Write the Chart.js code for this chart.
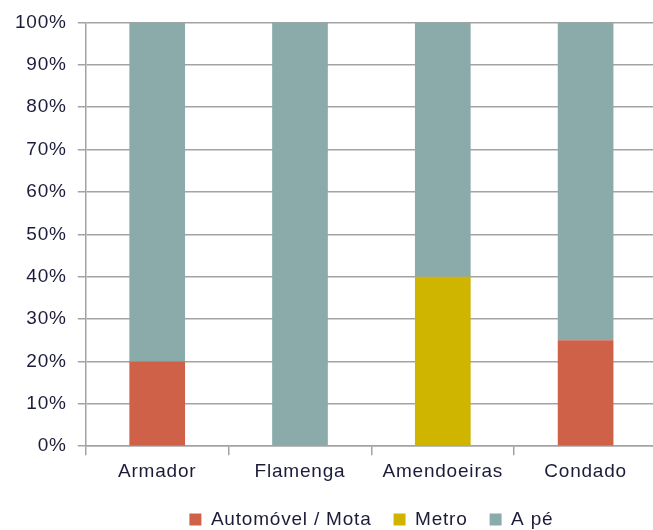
<!DOCTYPE html>
<html lang="pt">

<head>
    <meta charset="UTF-8">
    <title>Modo de deslocação</title>
    <style>
        body {
            margin: 0;
            background: #ffffff;
            overflow: hidden;
        }

        .chart-container {
            position: relative;
            width: 742px;
            height: 530px;
        }
    </style>
</head>

<body>
    <div class="chart-container">
        <canvas id="chart"></canvas>
    </div>

    <script src="https://cdn.jsdelivr.net/npm/chart.js"></script>
    <script>
        // categories and series (percent of each place)
        const places = ["Armador", "Flamenga", "Amendoeiras", "Condado"];
        const seriesNames = ["Automóvel / Mota", "Metro", "A pé"];
        const autoMota = [20, 0, 0, 25];
        const metro = [0, 0, 40, 0];
        const aPe = [80, 100, 60, 75];
        const seriesColors = ["#D06149", "#CFB500", "#8BABAB"];

        const gridGray = "#A3A3A3";
        const textColor = "#1c1c3a";

        Chart.defaults.font.family = "Arial, 'Liberation Sans', sans-serif";
        Chart.defaults.font.size = 19;
        Chart.defaults.color = textColor;

        // the original text is a bit wider than Liberation Sans, add some spacing
        const spacing = {
            id: "spacing",
            beforeUpdate(chart) { chart.ctx.letterSpacing = "0.8px"; },
            beforeDraw(chart) { chart.ctx.letterSpacing = "0.8px"; }
        };

        // centre the legend under the plot area instead of the whole layout box
        const legendUnderPlot = {
            id: "legendUnderPlot",
            afterLayout(chart) {
                const lg = chart.legend;
                const area = chart.chartArea;
                const shift = (area.left + area.right) / 2 - (lg.left + lg.right) / 2;
                lg.left += shift;
                lg.right += shift;
            }
        };

        const ctx = document.getElementById("chart").getContext("2d");

        new Chart(ctx, {
            type: "bar",
            data: {
                labels: places,
                datasets: [autoMota, metro, aPe].map((values, i) => ({
                    label: seriesNames[i],
                    data: values,
                    backgroundColor: seriesColors[i],
                    borderWidth: 0,
                    barPercentage: 0.39,
                    categoryPercentage: 1.0
                }))
            },
            options: {
                responsive: true,
                maintainAspectRatio: false,
                animation: false,
                layout: {
                    padding: { top: 16, left: 4, right: 85, bottom: -9 }
                },
                plugins: {
                    tooltip: { enabled: false },
                    legend: {
                        position: "bottom",
                        labels: {
                            boxWidth: 12,
                            boxHeight: 12,
                            padding: 22,
                            font: { size: 19 }
                        }
                    }
                },
                scales: {
                    x: {
                        stacked: true,
                        grid: {
                            display: true,
                            drawOnChartArea: false,
                            color: gridGray,
                            lineWidth: 1.5,
                            tickLength: 9,
                            offset: true
                        },
                        border: { color: gridGray, width: 1.5 },
                        ticks: { padding: 5, font: { size: 19 } }
                    },
                    y: {
                        stacked: true,
                        min: 0,
                        max: 100,
                        grid: {
                            color: gridGray,
                            lineWidth: 1.5,
                            tickLength: 8
                        },
                        border: { color: gridGray, width: 1.5 },
                        ticks: {
                            stepSize: 10,
                            padding: 11,
                            font: { size: 19 },
                            callback: value => value + "%"
                        }
                    }
                }
            },
            plugins: [spacing, legendUnderPlot]
        });
    </script>
</body>

</html>
